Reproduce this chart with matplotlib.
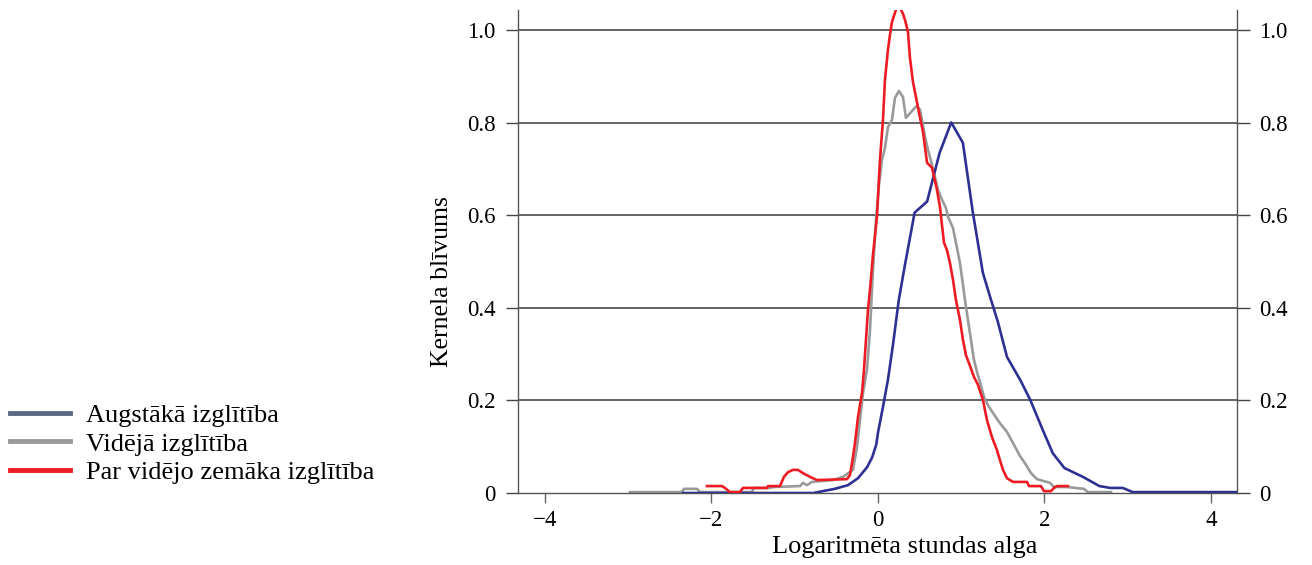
import matplotlib
matplotlib.use("Agg")
import matplotlib.pyplot as plt
from matplotlib.lines import Line2D

plt.rcParams["font.family"] = ["Liberation Serif", "DejaVu Serif"]

# kernel density curves of log hourly wage by education level
x_high = [-2.34, -0.78, -0.52, -0.36, -0.24, -0.13, -0.07, -0.02, 0.0, 0.06, 0.12, 0.18, 0.25,
          0.32, 0.44, 0.59, 0.74, 0.88, 1.02, 1.14, 1.26, 1.35, 1.44, 1.55, 1.71, 1.83,
          1.98, 2.10, 2.24, 2.46, 2.66, 2.79, 2.94, 3.06, 4.31]
y_high = [0.0, 0.0, 0.009, 0.017, 0.032, 0.056, 0.077, 0.105, 0.13, 0.186, 0.245, 0.32, 0.417,
          0.489, 0.606, 0.630, 0.735, 0.801, 0.757, 0.606, 0.476, 0.422, 0.370, 0.294, 0.244, 0.201,
          0.136, 0.086, 0.054, 0.035, 0.015, 0.011, 0.011, 0.002, 0.002]

x_mid = [-2.979, -2.354, -2.330, -2.174, -2.138, -1.514, -1.489, -1.297, -1.261, -0.937,
         -0.901, -0.853, -0.793, -0.541, -0.420, -0.300, -0.252, -0.216, -0.180, -0.132,
         -0.096, -0.060, -0.024, 0.012, 0.048, 0.084, 0.120, 0.168, 0.204, 0.252, 0.300,
         0.336, 0.420, 0.468, 0.505, 0.529, 0.565, 0.601, 0.649, 0.685, 0.721, 0.769,
         0.817, 0.841, 0.901, 0.949, 0.985, 1.021, 1.045, 1.081, 1.117, 1.153, 1.189,
         1.225, 1.273, 1.321, 1.381, 1.465, 1.550, 1.622, 1.706, 1.778, 1.838, 1.910,
         2.066, 2.114, 2.270, 2.474, 2.522, 2.799]
y_mid = [0.002, 0.002, 0.009, 0.009, 0.002, 0.002, 0.011, 0.011, 0.013, 0.015,
         0.022, 0.017, 0.024, 0.028, 0.035, 0.050, 0.099, 0.158, 0.216, 0.266,
         0.352, 0.482, 0.590, 0.666, 0.720, 0.746, 0.791, 0.806, 0.854, 0.869, 0.856,
         0.811, 0.828, 0.837, 0.828, 0.806, 0.770, 0.742, 0.709, 0.683, 0.655, 0.634,
         0.616, 0.597, 0.573, 0.530, 0.497, 0.450, 0.417, 0.374, 0.331, 0.288, 0.262,
         0.240, 0.208, 0.190, 0.173, 0.151, 0.132, 0.108, 0.080, 0.061, 0.043, 0.030,
         0.022, 0.013, 0.013, 0.009, 0.002, 0.002]

x_low = [-2.054, -1.874, -1.838, -1.778, -1.658, -1.622, -1.333, -1.321, -1.177, -1.129,
         -1.081, -1.021, -0.961, -0.901, -0.817, -0.733, -0.372, -0.336, -0.300, -0.276,
         -0.240, -0.192, -0.168, -0.144, -0.120, -0.096, -0.060, -0.012, 0.024, 0.060,
         0.084, 0.120, 0.144, 0.168, 0.204, 0.228, 0.264, 0.300, 0.324, 0.360, 0.384,
         0.420, 0.468, 0.505, 0.541, 0.565, 0.589, 0.649, 0.709, 0.745, 0.769, 0.793,
         0.829, 0.865, 0.901, 0.937, 0.985, 1.021, 1.057, 1.105, 1.153, 1.201, 1.261,
         1.309, 1.369, 1.429, 1.465, 1.502, 1.550, 1.622, 1.790, 1.814, 1.958, 1.994,
         2.078, 2.114, 2.150, 2.282]
y_low = [0.015, 0.015, 0.011, 0.002, 0.002, 0.011, 0.011, 0.015, 0.015, 0.035,
         0.045, 0.050, 0.050, 0.043, 0.035, 0.028, 0.030, 0.039, 0.078, 0.108,
         0.164, 0.216, 0.266, 0.331, 0.396, 0.439, 0.515, 0.597, 0.720, 0.806,
         0.893, 0.958, 0.990, 1.018, 1.038, 1.051, 1.049, 1.036, 1.023, 0.997, 0.941,
         0.889, 0.845, 0.811, 0.781, 0.748, 0.714, 0.703, 0.655, 0.618, 0.579, 0.541,
         0.525, 0.497, 0.461, 0.417, 0.374, 0.331, 0.298, 0.275, 0.251, 0.234, 0.201,
         0.158, 0.121, 0.093, 0.071, 0.050, 0.032, 0.024, 0.024, 0.015, 0.015, 0.004,
         0.004, 0.011, 0.015, 0.015]

labels = ["Augstākā izglītība", "Vidējā izglītība", "Par vidējo zemāka izglītība"]
y_ticks = [0, 0.2, 0.4, 0.6, 0.8, 1.0]
y_tick_labels = ["0", "0.2", "0.4", "0.6", "0.8", "1.0"]
x_ticks = [-4, -2, 0, 2, 4]
x_tick_labels = ["\u22124", "\u22122", "0", "2", "4"]

fig = plt.figure(figsize=(13.12, 5.65), dpi=100)
ax = fig.add_axes([0.3948, 0.1274, 0.548, 0.8549])

# gridlines
for yv in y_ticks[1:]:
    ax.axhline(yv, color="#3a3a3a", lw=1.1, zorder=1)

ax.plot(x_high, y_high, color="#2e3192", lw=1.9, zorder=3)
ax.plot(x_mid, y_mid, color="#9a9a9a", lw=1.9, zorder=2)
ax.plot(x_low, y_low, color="#ed1c24", lw=1.9, zorder=4)

ax.set_xlim(-4.324, 4.312)
ax.set_ylim(0, 1.044)

ax.set_yticks(y_ticks)
ax.set_yticklabels(y_tick_labels)
ax.set_xticks(x_ticks)
ax.set_xticklabels(x_tick_labels)
ax.tick_params(axis="y", which="both", left=True, right=True, labelleft=True, labelright=True,
               direction="out", length=9, width=1.0, color="#444444", labelsize=16.5, pad=7)
ax.tick_params(axis="x", direction="out", length=7, width=1.0, color="#666666", labelsize=16.5, pad=5)

ax.spines["top"].set_visible(False)
for side in ["left", "right", "bottom"]:
    ax.spines[side].set_color("#555555")
    ax.spines[side].set_linewidth(1.0)

ax.set_xlabel("Logaritmēta stundas alga", fontsize=19)
ax.xaxis.set_label_coords(0.538, -0.088)
ax.set_ylabel("Kernela blīvums", fontsize=18.5)
ax.yaxis.set_label_coords(-0.09, 0.437)

# legend on the left side of the figure
handles = [Line2D([], [], color="#5a6a85", lw=3.5),
           Line2D([], [], color="#999999", lw=3.5),
           Line2D([], [], color="#ed1c24", lw=3.5)]
fig.legend(handles, labels, loc="center left", bbox_to_anchor=(0.008, 0.2145),
           frameon=False, fontsize=19, handlelength=2.25, handletextpad=0.6,
           labelspacing=0.2, borderpad=0, borderaxespad=0)

fig.savefig("out.png", dpi=100)
